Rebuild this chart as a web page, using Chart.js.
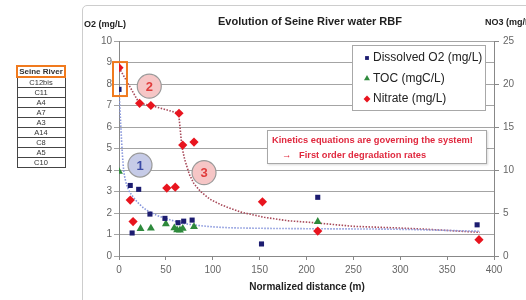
<!DOCTYPE html>
<html lang="en">
<head>
<meta charset="UTF-8">
<title>Evolution of Seine River water RBF</title>
<script src="https://cdn.jsdelivr.net/npm/chart.js"></script>
<style>
    body {
        margin: 0;
        background: #fff;
        font-family: 'Liberation Sans', Arial, sans-serif;
    }

    #wrap {
        position: relative;
        width: 526px;
        height: 300px;
        overflow: hidden;
    }

    #frame {
        position: absolute;
        left: 82px;
        top: 5px;
        width: 470px;
        height: 320px;
        border: 1.5px solid #cdcdcd;
        border-radius: 5px;
    }

    #chart {
        position: absolute;
        left: 0;
        top: 0;
    }

    .lbl {
        position: absolute;
        white-space: nowrap;
        color: #222;
        font-weight: bold;
    }

    #title { left: 160px; width: 300px; top: 15px; text-align: center; font-size: 11px; }
    #o2Label { left: 84px; top: 19px; font-size: 9px; }
    #no3Label { left: 485px; top: 17px; font-size: 9px; }
    #xTitle { left: 207px; width: 200px; top: 281px; text-align: center; font-size: 10px; }

    #note {
        position: absolute;
        left: 267px;
        top: 130px;
        width: 218px;
        height: 32px;
        background: #fff;
        border: 1px solid #a8a8a8;
        box-shadow: 1px 1px 2px rgba(0, 0, 0, 0.15);
        color: #e0293f;
        font-weight: bold;
        font-size: 9.3px;
    }

    #note .l1 { position: absolute; left: 4px; top: 4px; white-space: nowrap; }
    #note .l2 { position: absolute; left: 14px; top: 19px; white-space: nowrap; }

    #sites {
        position: absolute;
        left: 16px;
        top: 65px;
        border-collapse: collapse;
        font-size: 7.5px;
        color: #333;
    }

    #sites td {
        width: 46px;
        height: 9px;
        padding: 0;
        line-height: 9px;
        text-align: center;
        border: 1px solid #444;
    }

    #sites tr.river td {
        border: 2px solid #f07a1e;
        font-weight: bold;
        font-size: 8px;
    }
</style>
</head>
<body>
<div id="wrap">
    <div id="frame"></div>
    <canvas id="chart" width="526" height="300"></canvas>
    <div class="lbl" id="title">Evolution of Seine River water RBF</div>
    <div class="lbl" id="o2Label">O2 (mg/L)</div>
    <div class="lbl" id="no3Label">NO3 (mg/L)</div>
    <div class="lbl" id="xTitle">Normalized distance (m)</div>
    <div id="note">
        <span class="l1">Kinetics equations are governing the system!</span>
        <span class="l2">&rarr;&nbsp;&nbsp; First order degradation rates</span>
    </div>
    <table id="sites"></table>
</div>

<script>
    // sampling sites (left table)
    var sites = ['Seine River', 'C12bis', 'C11', 'A4', 'A7', 'A3', 'A14', 'C8', 'A5', 'C10'];

    // Dissolved O2 (mg/L), left axis
    var o2Dist = [0, 12, 14, 21, 33, 49, 63, 69, 78, 152, 212, 382];
    var o2Values = [7.75, 3.28, 1.07, 3.1, 1.95, 1.75, 1.55, 1.62, 1.67, 0.56, 2.73, 1.45];

    // TOC (mgC/L), left axis
    var tocDist = [0, 23, 34, 50, 59, 62, 65, 68, 80, 212];
    var tocValues = [3.93, 1.27, 1.29, 1.49, 1.3, 1.21, 1.2, 1.28, 1.36, 1.6];

    // Nitrate (mg/L), right axis
    var no3Dist = [0, 12, 15, 22, 34, 51, 60, 64, 68, 80, 153, 212, 384];
    var no3Values = [21.9, 6.5, 4.0, 17.75, 17.5, 7.9, 8.0, 16.6, 12.9, 13.25, 6.3, 2.9, 1.9];

    // dotted fitted curves
    var o2FitDist = [0, 2, 3.5, 5, 7, 10, 15, 22, 30, 40, 50, 65, 85, 110, 150, 200, 300, 385];
    var o2FitValues = [7.75, 6.0, 4.8, 4.0, 3.5, 3.1, 2.75, 2.4, 2.12, 1.9, 1.75, 1.55, 1.42, 1.33, 1.29, 1.27, 1.24, 1.15];
    var no3FitDist = [0, 21.7, 34, 63.6, 65.5, 67, 70, 75, 80, 87, 97, 110, 130, 155, 180, 205, 250, 300, 330, 385];
    var no3FitValues = [21.9, 17.75, 17.5, 16.6, 14.5, 12.75, 11.25, 9.5, 8.4, 7.5, 6.6, 5.9, 5.1, 4.5, 4.1, 3.9, 3.45, 3.25, 3.1, 2.75];

    // x axis, left axis, right axis tick steps
    var xTicks = { min: 0, max: 400, step: 50 };
    var o2Ticks = { min: 0, max: 10, step: 1 };
    var no3Ticks = { min: 0, max: 25, step: 5 };

    // numbered circles and the highlight box, in data units (left axis)
    var markers = [
        { text: '1', x: 22.4, y: 4.23, fill: '#c6cbe7', color: '#3b4aa5' },
        { text: '2', x: 32.3, y: 7.9, fill: '#f6c6c6', color: '#e03c3c' },
        { text: '3', x: 90.7, y: 3.88, fill: '#f6c6c6', color: '#e03c3c' }
    ];
    var highlight = { x0: -6.4, x1: 8.5, y0: 7.44, y1: 9.02 };

    function toPoints(xs, ys) {
        return xs.map(function (x, i) { return { x: x, y: ys[i] }; });
    }

    var table = document.getElementById('sites');
    sites.forEach(function (s, i) {
        var tr = document.createElement('tr');
        if (i === 0) tr.className = 'river';
        var td = document.createElement('td');
        td.textContent = s;
        tr.appendChild(td);
        table.appendChild(tr);
    });

    var extras = {
        id: 'extras',
        afterDraw: function (chart) {
            var ctx = chart.ctx;
            var xs = chart.scales.x, ys = chart.scales.y;
            var area = chart.chartArea;

            // orange box around the river samples
            ctx.save();
            ctx.strokeStyle = '#f07a1e';
            ctx.lineWidth = 2;
            var bx = xs.getPixelForValue(highlight.x0), by = ys.getPixelForValue(highlight.y1);
            ctx.strokeRect(bx, by, xs.getPixelForValue(highlight.x1) - bx, ys.getPixelForValue(highlight.y0) - by);

            // circled numbers
            markers.forEach(function (m) {
                var px = xs.getPixelForValue(m.x), py = ys.getPixelForValue(m.y);
                ctx.beginPath();
                ctx.arc(px, py, 12, 0, Math.PI * 2);
                ctx.fillStyle = m.fill;
                ctx.fill();
                ctx.lineWidth = 1.2;
                ctx.strokeStyle = '#9a9a9a';
                ctx.stroke();
                ctx.fillStyle = m.color;
                ctx.font = 'bold 13px "Liberation Sans", Arial, sans-serif';
                ctx.textAlign = 'center';
                ctx.textBaseline = 'middle';
                ctx.fillText(m.text, px, py + 1);
            });

            // legend box
            var lx = area.right - 142, ly = area.top + 4;
            ctx.fillStyle = '#fff';
            ctx.fillRect(lx, ly, 133, 65);
            ctx.strokeStyle = '#a8a8a8';
            ctx.lineWidth = 1;
            ctx.strokeRect(lx + 0.5, ly + 0.5, 133, 65);
            ctx.font = '12px "Liberation Sans", Arial, sans-serif';
            ctx.textAlign = 'left';
            ctx.textBaseline = 'middle';
            chart.data.datasets.filter(function (d) { return !d.isFit; }).forEach(function (d, i) {
                var ey = ly + 13 + i * 20.5;
                ctx.fillStyle = d.backgroundColor;
                ctx.strokeStyle = d.borderColor;
                ctx.lineWidth = 1;
                Chart.helpers.drawPoint(ctx, { pointStyle: d.pointStyle, radius: d.pointRadius * 0.75, rotation: 0 }, lx + 15, ey);
                ctx.fillStyle = '#222';
                ctx.fillText(d.label, lx + 21, ey);
            });
            ctx.restore();
        }
    };

    var tickFont = { family: '"Liberation Sans", Arial, sans-serif', size: 10 };

    new Chart(document.getElementById('chart'), {
        type: 'scatter',
        data: {
            datasets: [
                {
                    label: 'Dissolved O2 (mg/L)',
                    data: toPoints(o2Dist, o2Values),
                    yAxisID: 'y',
                    pointStyle: 'rect',
                    pointRadius: 3.6,
                    backgroundColor: '#1c1c70',
                    borderColor: '#1c1c70',
                    borderWidth: 0,
                    order: 1
                },
                {
                    label: 'TOC (mgC/L)',
                    data: toPoints(tocDist, tocValues),
                    yAxisID: 'y',
                    pointStyle: 'triangle',
                    pointRadius: 4.6,
                    backgroundColor: '#2e8a3c',
                    borderColor: '#2e8a3c',
                    borderWidth: 0,
                    order: 1
                },
                {
                    label: 'Nitrate (mg/L)',
                    data: toPoints(no3Dist, no3Values),
                    yAxisID: 'y1',
                    pointStyle: 'rectRot',
                    pointRadius: 4.6,
                    backgroundColor: '#e8141e',
                    borderColor: '#e8141e',
                    borderWidth: 0,
                    order: 1
                },
                {
                    label: 'O2 fit',
                    isFit: true,
                    data: toPoints(o2FitDist, o2FitValues),
                    yAxisID: 'y',
                    showLine: true,
                    pointRadius: 0,
                    borderColor: '#8796dc',
                    borderWidth: 1.6,
                    borderDash: [1.5, 1.5],
                    cubicInterpolationMode: 'monotone',
                    order: 2
                },
                {
                    label: 'NO3 fit',
                    isFit: true,
                    data: toPoints(no3FitDist, no3FitValues),
                    yAxisID: 'y1',
                    showLine: true,
                    pointRadius: 0,
                    borderColor: '#a84a5a',
                    borderWidth: 1.6,
                    borderDash: [1.5, 1.5],
                    order: 2
                }
            ]
        },
        options: {
            responsive: false,
            animation: false,
            layout: { padding: { left: 0, right: 0, top: 41, bottom: 0 } },
            plugins: {
                legend: { display: false },
                tooltip: { enabled: false }
            },
            scales: {
                x: {
                    type: 'linear',
                    min: xTicks.min,
                    max: xTicks.max,
                    ticks: { stepSize: xTicks.step, font: tickFont, color: '#666', padding: 4, maxRotation: 0 },
                    grid: { drawOnChartArea: false, drawTicks: true, tickLength: 4, color: '#888' },
                    border: { color: '#888' },
                    afterFit: function (s) { s.height = 44; }
                },
                y: {
                    position: 'left',
                    min: o2Ticks.min,
                    max: o2Ticks.max,
                    ticks: { stepSize: o2Ticks.step, font: tickFont, color: '#666', padding: 2 },
                    grid: { color: '#a4a4a4', tickLength: 5 },
                    border: { color: '#888' },
                    afterFit: function (s) { s.width = 119; }
                },
                y1: {
                    position: 'right',
                    min: no3Ticks.min,
                    max: no3Ticks.max,
                    ticks: { stepSize: no3Ticks.step, font: tickFont, color: '#666', padding: 4 },
                    grid: { drawOnChartArea: false, tickLength: 5, color: '#888' },
                    border: { color: '#888' },
                    afterFit: function (s) { s.width = 32; }
                }
            }
        },
        plugins: [extras]
    });
</script>
</body>
</html>
